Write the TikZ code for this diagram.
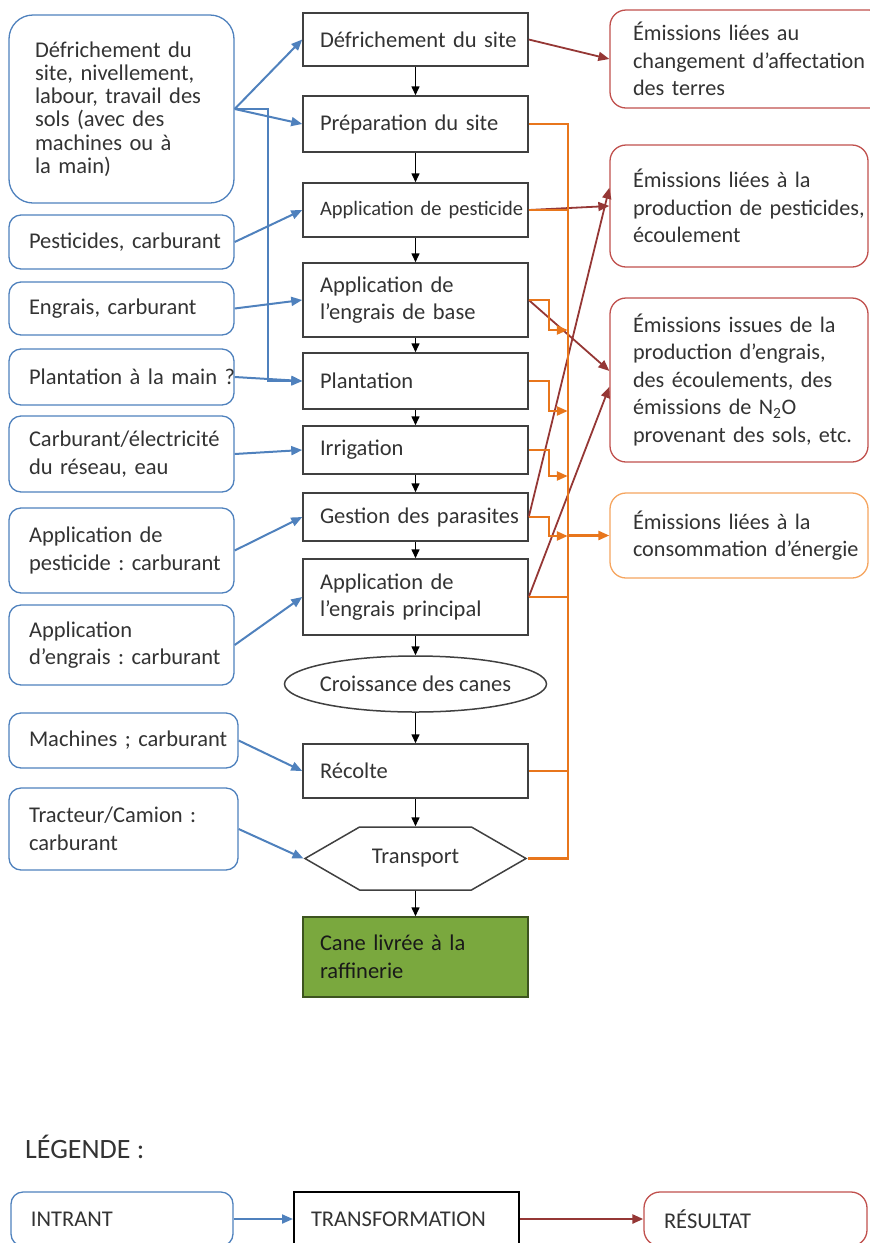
\documentclass[tikz,border=0pt]{standalone}
\usepackage{fontspec}
\setmainfont{Carlito}
\usetikzlibrary{shapes,arrows.meta}
\definecolor{inblue}{RGB}{79,129,189}
\definecolor{outred}{RGB}{149,55,53}
\definecolor{redframe}{RGB}{192,80,77}
\definecolor{energy}{RGB}{232,118,28}
\definecolor{energyframe}{RGB}{245,165,95}
\definecolor{canegreen}{RGB}{122,168,62}
\newcommand{\boxindent}[1]{\leftskip=#1\rightskip=0pt plus 1fil minus 100pt}
\frenchspacing
\hyphenpenalty=10000

\begin{document}
\begin{tikzpicture}[
      x=1pt, y=-1pt,
      >={Triangle[length=11pt,width=9pt]},
      every node/.style={font=\fontsize{22.5}{27.5}\selectfont, text=black!80},
      process/.style={rectangle, draw=black!75, line width=1.5pt, minimum width=225pt, text width=223pt, inner xsep=1pt, align=left, execute at begin node={\boxindent{16pt}}},
      intrant/.style={rectangle, rounded corners=12pt, draw=inblue, line width=1.3pt, text width=223pt, inner xsep=1pt, align=left, execute at begin node={\boxindent{19pt}}},
      result/.style={rectangle, rounded corners=16pt, draw=redframe, line width=1.3pt, text width=256pt, inner xsep=1pt, align=left, font=\fontsize{22.2}{27.5}\selectfont, execute at begin node={\boxindent{22pt}}},
      flow/.style={line width=1.5pt, -{Triangle[length=9pt,width=8pt]}, draw=black},
      inpointer/.style={line width=2pt, ->, draw=inblue},
      outpointer/.style={line width=1.8pt, ->, draw=outred},
      epointer/.style={line width=2.4pt, ->, draw=energy},
      eline/.style={line width=2.4pt, draw=energy}
      ]
      \useasboundingbox (0,0) rectangle (870,1243);

      \node[process, minimum height=53pt] (defr) at (415.5,39.5) {Défrichement du site};
      \node[process, minimum height=56pt] (prep) at (415.5,124) {Préparation du site};
      \node[process, minimum height=54pt, font=\fontsize{20.5}{25}\selectfont] (pest) at (415.5,210) {Application de pesticide};
      \node[process, minimum height=74pt] (engbase) at (415.5,300) {Application de\\l’engrais de base};
      \node[process, minimum height=56pt] (plant) at (415.5,381) {Plantation};
      \node[process, minimum height=48pt] (irrig) at (415.5,450) {Irrigation};
      \node[process, minimum height=48pt] (gest) at (415.5,517) {Gestion des parasites};
      \node[process, minimum height=76pt] (engpr) at (415.5,597) {Application de\\l’engrais principal};
      \node[ellipse, draw=black!75, line width=1.5pt, inner sep=0pt, minimum width=262pt, minimum height=56pt] (crois) at (415.5,684) {\makebox[180pt]{Croissance des canes}};
      \node[process, minimum height=54pt] (recolte) at (415.5,771) {Récolte};
      \node[signal, signal to=west and east, signal pointer angle=60, draw=black!75, line width=1.5pt, minimum width=221pt, minimum height=63pt] (transport) at (415.5,858.5) {Transport};
      \node[process, fill=canegreen, draw=black!50!canegreen, minimum height=80pt, text=black!90] (cane) at (415.5,957) {Cane livrée à la\\raffinerie};

      \node[intrant, minimum height=188pt, rounded corners=24pt, font=\fontsize{22.5}{23.3}\selectfont, execute at begin node={\boxindent{25pt}}] (l1) at (121.5,109) {Défrichement du\\site, nivellement,\\labour, travail des\\sols (avec des\\machines ou à\\la main)};
      \node[intrant, minimum height=54pt] (l2) at (121.5,242) {Pesticides, carburant};
      \node[intrant, minimum height=53pt] (l3) at (121.5,308.5) {Engrais, carburant};
      \node[intrant, minimum height=56pt] (l4) at (121.5,377) {Plantation à la main~?};
      \node[intrant, minimum height=76pt] (l5) at (121.5,454) {Carburant/électricité\\du réseau, eau};
      \node[intrant, minimum height=85pt] (l6) at (121.5,550.5) {Application de\\pesticide : carburant};
      \node[intrant, minimum height=80pt] (l7) at (121.5,645) {Application\\d’engrais : carburant};
      \node[intrant, minimum height=55pt, text width=227pt] (l8) at (123.5,740.5) {Machines ; carburant};
      \node[intrant, minimum height=82pt, text width=227pt] (l9) at (123.5,829) {Tracteur/Camion :\\carburant};

      \node[result, minimum height=98pt, text width=273pt] (r1) at (747.5,59) {Émissions liées au\\changement d’affectation\\des terres};
      \node[result, minimum height=122pt] (r2) at (739,206) {Émissions liées à la\\production de pesticides,\\écoulement};
      \node[result, minimum height=164pt] (r3) at (739,380) {Émissions issues de la\\production d’engrais,\\des écoulements, des\\émissions de N\textsubscript{2}O\\provenant des sols, etc.};
      \node[result, draw=energyframe, minimum height=85pt] (r4) at (739,535.5) {Émissions liées à la\\consommation d’énergie};

      \foreach \a/\b in {defr/prep, prep/pest, pest/engbase, engbase/plant, plant/irrig, irrig/gest, gest/engpr, engpr/crois, crois/recolte, recolte/transport, transport/cane}
        \path (\a.south) edge [flow] (\b.north);

      \coordinate (jog) at (268,0);
      \path (l1.east) edge [inpointer] (defr.west);
      \path (l1.east) edge [inpointer] (prep.west);
      \draw[inpointer] (l1.east) -- (l1.east -| jog) |- (plant.west);
      \path (l2.east) edge [inpointer] (pest.west);
      \path (l3.east) edge [inpointer] (engbase.west);
      \path (l4.east) edge [inpointer] (plant.west);
      \path (l5.east) edge [inpointer] (irrig.west);
      \path (l6.east) edge [inpointer] (gest.west);
      \path (l7.east) edge [inpointer] (engpr.west);
      \path (l8.east) edge [inpointer] (recolte.west);
      \path (l9.east) edge [inpointer] (transport.west);

      \path (defr.east) edge [outpointer] (r1.west);
      \path (pest.east) edge [outpointer] (r2.west);
      \path (gest.east) edge [outpointer] (r2.172);
      \path (engbase.east) edge [outpointer] (r3.176);
      \path (engpr.east) edge [outpointer] (r3.183);

      \coordinate (bus) at (568,0);
      \draw[eline] (prep.east) -| (bus |- transport.east) -- (transport.east);
      \foreach \n in {pest, engpr, recolte}
        \draw[eline] (\n.east) -- (\n.east -| bus);
      \foreach \n/\d in {engbase/30, plant/30, irrig/26, gest/19}
        \draw[epointer] (\n.east) -- ++(20,0) -- ++(0,\d) -- ++(19,0);
      \path (bus |- r4.west) edge [epointer] (r4.west);

      \node[font=\fontsize{28}{34}\selectfont, inner sep=0pt, anchor=west] (legende) at (25,1147) {LÉGENDE :};
      \node[intrant, minimum height=54pt, text width=220pt] (intrant) at (122,1219) {INTRANT};
      \node[process, draw=black, line width=2pt, minimum height=54pt] (transfo) at (406.5,1219) {TRANSFORMATION};
      \node[result, minimum height=54pt, text width=221pt, font=\fontsize{22.5}{27.5}\selectfont, execute at begin node={\boxindent{19pt}}] (resultat) at (755.5,1219) {RÉSULTAT};
      \path (intrant) edge [inpointer] (transfo);
      \path (transfo) edge [outpointer, line width=2.5pt] (resultat);
    \end{tikzpicture}
\end{document}
